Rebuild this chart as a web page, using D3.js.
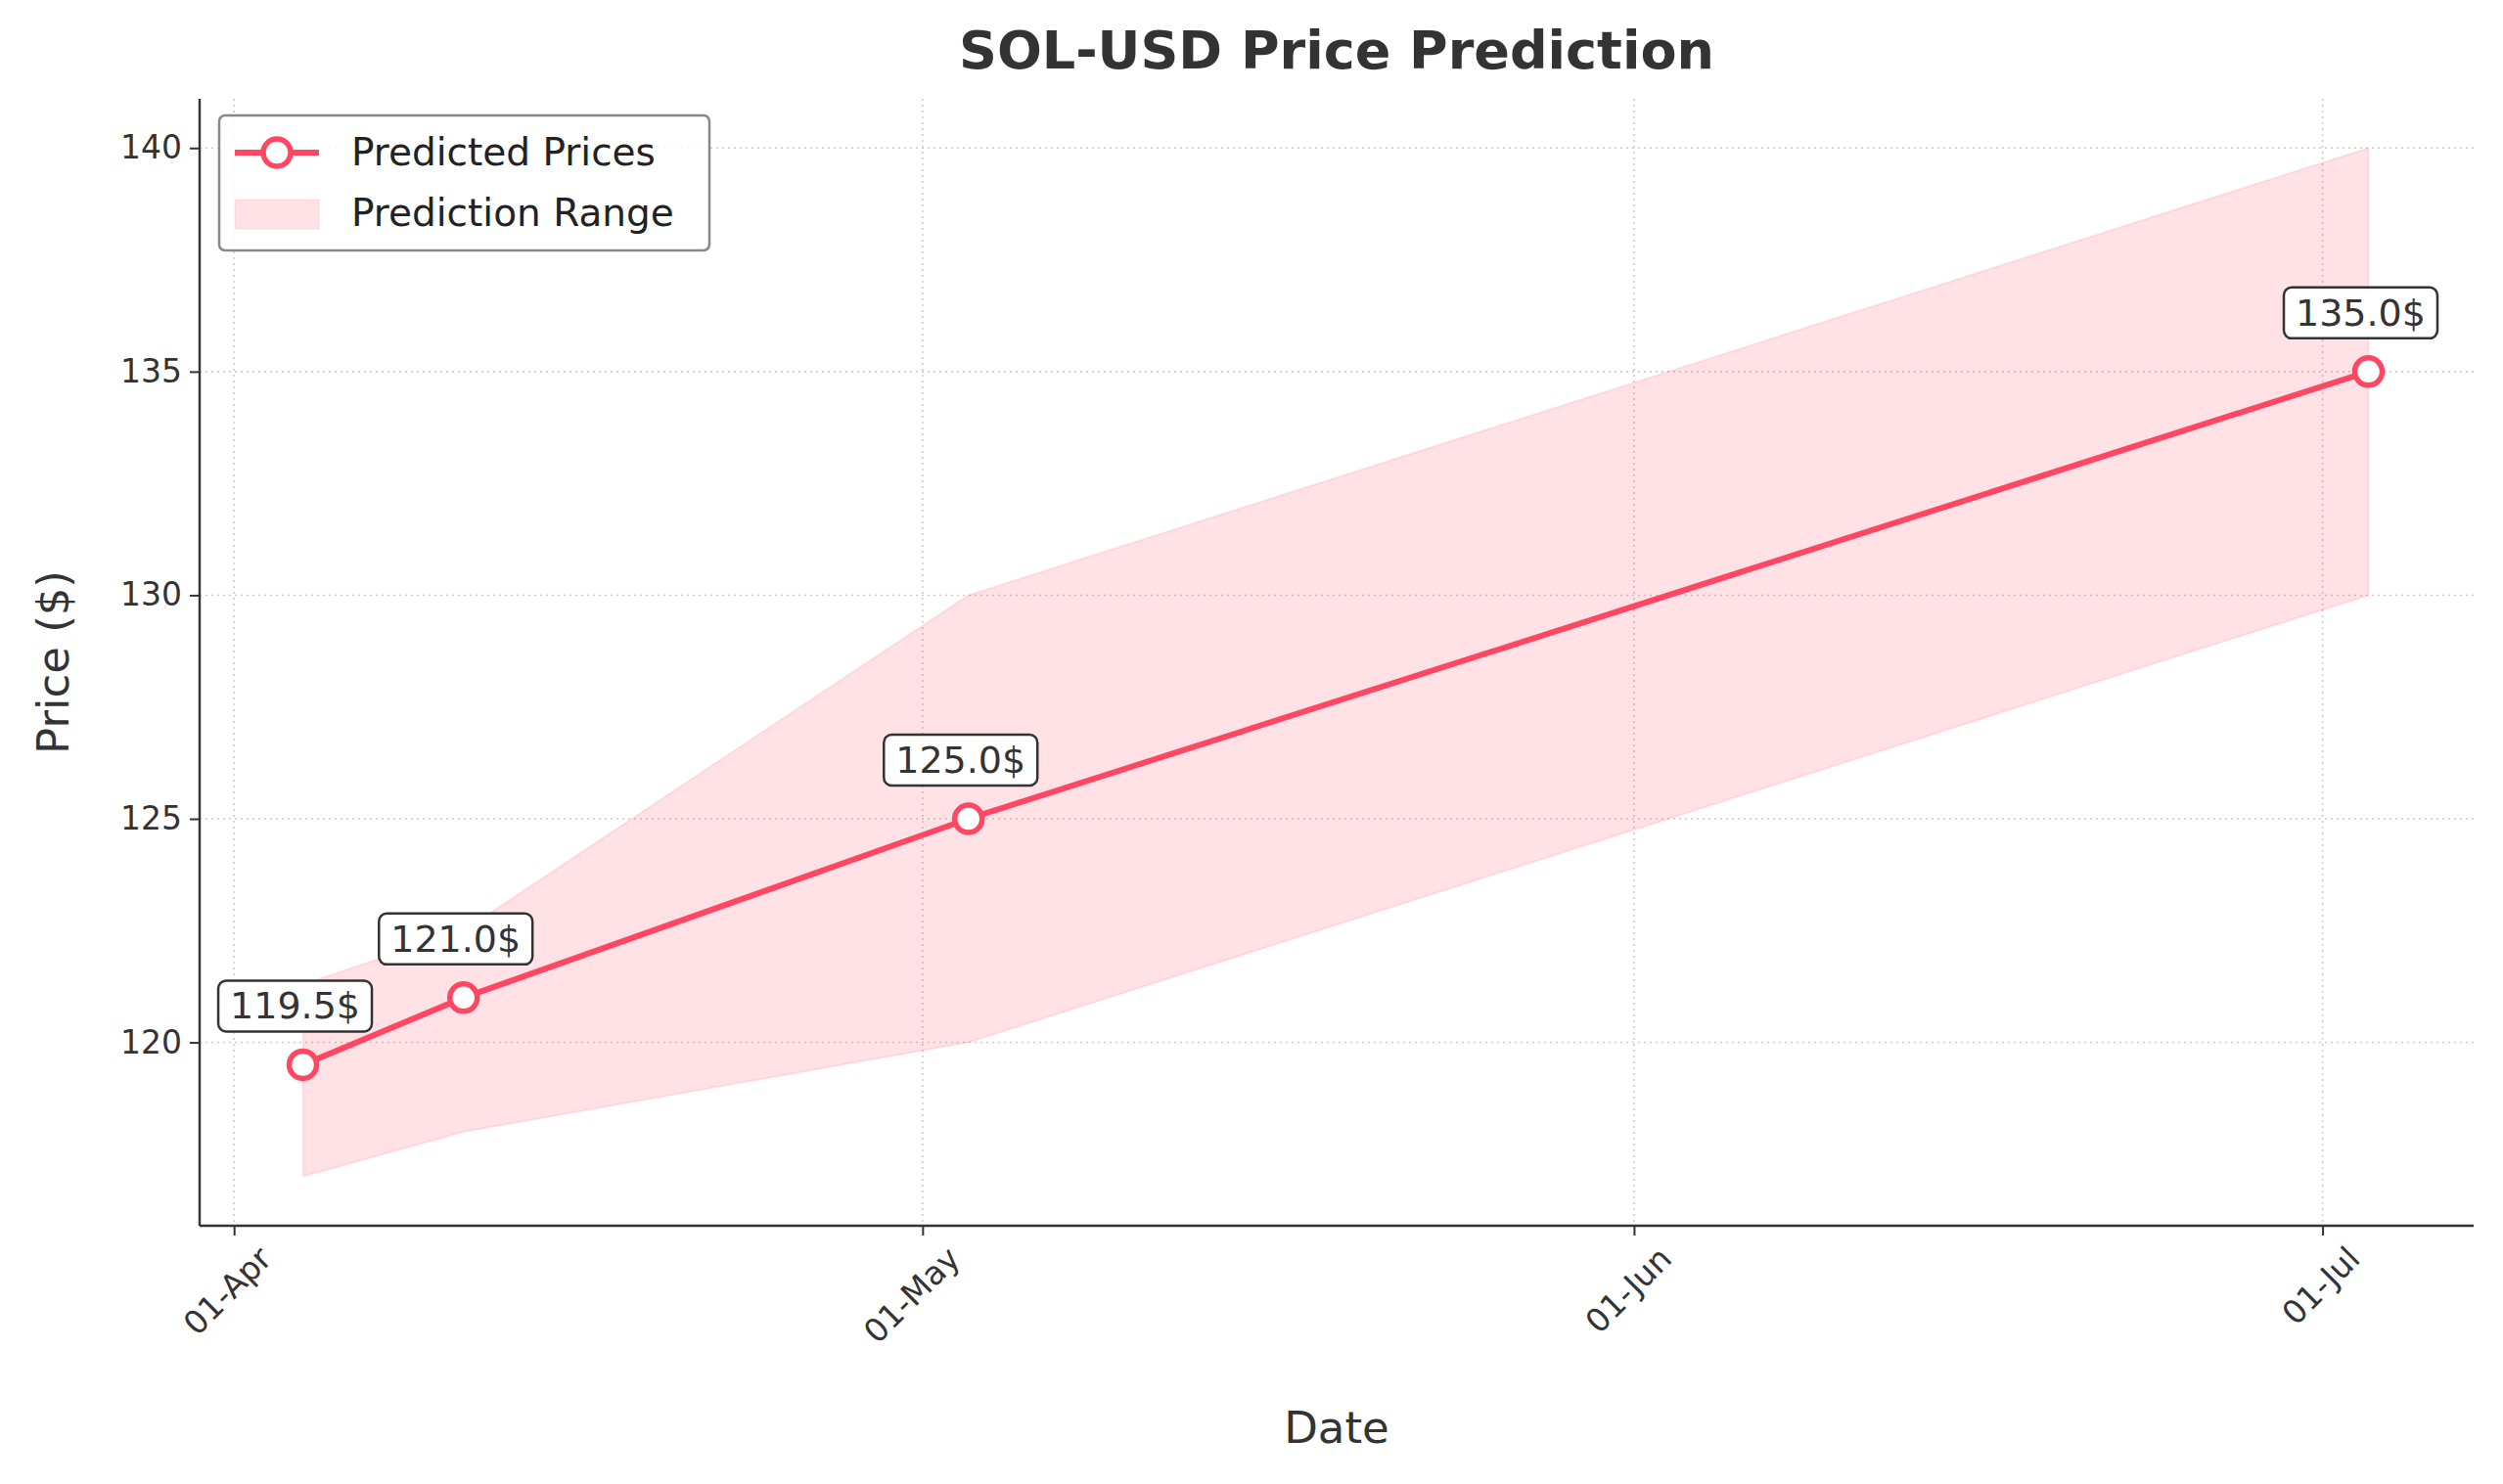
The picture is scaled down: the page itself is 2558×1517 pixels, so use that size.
<!DOCTYPE html>
<html><head><meta charset="utf-8">
<script src="https://cdn.jsdelivr.net/npm/d3@7"></script>
<style>body{margin:0;background:#fff;font-family:"DejaVu Sans",sans-serif;} svg text{font-family:"DejaVu Sans",sans-serif;}</style>
</head><body><svg id="c" width="2558" height="1517"></svg>
<script>
const dates = ["2025-04-04", "2025-04-11", "2025-05-03", "2025-07-03"];
const predicted = [119.5, 121.0, 125.0, 135.0];
const lower = [117.0, 118.0, 120.0, 130.0];
const upper = [121.3, 122.5, 130.0, 140.0];
const yTicks = [120, 125, 130, 135, 140];
const xTicks = ["2025-04-01", "2025-05-01", "2025-06-01", "2025-07-01"];

const parse = d3.utcParse("%Y-%m-%d");
const data = dates.map((d, i) => ({ date: parse(d), p: predicted[i], lo: lower[i], hi: upper[i] }));

const svg = d3.select("#c");
const m = { left: 204, right: 2528, top: 101, bottom: 1253 };
const color = "#ff4763";

const x = d3.scaleUtc().domain([new Date(Date.UTC(2025, 2, 30, 12)), new Date(Date.UTC(2025, 6, 7, 14))]).range([m.left, m.right]);
const y = d3.scaleLinear().domain([115.9, 141.1]).range([m.bottom, m.top]);

// grid
const grid = svg.append("g").attr("stroke", "#ccc").attr("stroke-width", 1.6).attr("stroke-dasharray", "2,4");
yTicks.forEach(t => grid.append("line").attr("x1", m.left).attr("x2", m.right).attr("y1", y(t)).attr("y2", y(t)));
xTicks.forEach(t => grid.append("line").attr("x1", x(parse(t))).attr("x2", x(parse(t))).attr("y1", m.top).attr("y2", m.bottom));

// range band
svg.append("path").datum(data)
  .attr("d", d3.area().x(d => x(d.date)).y0(d => y(d.lo)).y1(d => y(d.hi)))
  .attr("fill", color).attr("fill-opacity", 0.16).attr("stroke", color).attr("stroke-opacity", 0.12).attr("stroke-width", 2);

// line
svg.append("path").datum(data)
  .attr("d", d3.line().x(d => x(d.date)).y(d => y(d.p)))
  .attr("fill", "none").attr("stroke", color).attr("stroke-width", 6);

svg.selectAll("circle.pt").data(data).join("circle")
  .attr("cx", d => x(d.date)).attr("cy", d => y(d.p)).attr("r", 14)
  .attr("fill", "#fff").attr("stroke", color).attr("stroke-width", 5.5);

// labels
data.forEach(d => {
  const g = svg.append("g").attr("transform", `translate(${x(d.date) - 8},${y(d.p) - 60})`);
  const t = g.append("text").attr("text-anchor", "middle").attr("dominant-baseline", "central")
    .style("font-size", "38px").attr("fill", "#333").text(d.p.toFixed(1) + "$");
  const b = t.node().getBBox();
  g.insert("rect", "text").attr("x", b.x - 12).attr("y", b.y - 4).attr("width", b.width + 24).attr("height", b.height + 8)
    .attr("rx", 8).attr("fill", "#fff").attr("stroke", "#333").attr("stroke-width", 2.5);
});

// axes
const xAxis = svg.append("g").attr("transform", `translate(0,${m.bottom})`)
  .call(d3.axisBottom(x).tickValues(xTicks.map(parse)).tickFormat(d3.utcFormat("%d-%b")).tickSize(10).tickSizeOuter(0));
xAxis.selectAll("text").style("font-size", "33px").attr("fill", "#333").attr("text-anchor", "end")
  .attr("transform", "translate(14,10) rotate(-45)");
const yAxis = svg.append("g").attr("transform", `translate(${m.left},0)`)
  .call(d3.axisLeft(y).tickValues(yTicks).tickSize(10).tickSizeOuter(0));
yAxis.selectAll("text").style("font-size", "33px").attr("fill", "#333").attr("x", -18);
[xAxis, yAxis].forEach(a => { a.attr("font-family", null).attr("font-size", null); a.selectAll("line,path").attr("stroke", "#333").attr("stroke-width", 2); a.select(".domain").attr("d", null); });
svg.append("line").attr("x1", m.left).attr("x2", m.right).attr("y1", m.bottom).attr("y2", m.bottom).attr("stroke", "#333").attr("stroke-width", 2.4);
svg.append("line").attr("x1", m.left).attr("x2", m.left).attr("y1", m.top).attr("y2", m.bottom).attr("stroke", "#333").attr("stroke-width", 2.4);

svg.append("text").attr("x", (m.left + m.right) / 2).attr("y", 70).attr("text-anchor", "middle")
  .style("font-size", "54px").attr("font-weight", "bold").attr("fill", "#333").text("SOL-USD Price Prediction");
svg.append("text").attr("x", (m.left + m.right) / 2).attr("y", 1475).attr("text-anchor", "middle")
  .style("font-size", "45px").attr("fill", "#333").text("Date");
svg.append("text").attr("transform", `translate(70,${(m.top + m.bottom) / 2}) rotate(-90)`).attr("text-anchor", "middle")
  .style("font-size", "45px").attr("fill", "#333").text("Price ($)");

// legend
const lg = svg.append("g").attr("transform", "translate(224,118)");
lg.append("rect").attr("width", 501).attr("height", 138).attr("rx", 6).attr("fill", "#fff").attr("fill-opacity", 0.85)
  .attr("stroke", "#888").attr("stroke-width", 2.5);
lg.append("line").attr("x1", 16).attr("x2", 102).attr("y1", 38).attr("y2", 38).attr("stroke", color).attr("stroke-width", 6);
lg.append("circle").attr("cx", 59).attr("cy", 38).attr("r", 14).attr("fill", "#fff").attr("stroke", color).attr("stroke-width", 5.5);
lg.append("rect").attr("x", 16).attr("y", 86).attr("width", 86).attr("height", 30).attr("fill", color).attr("fill-opacity", 0.16)
  .attr("stroke", color).attr("stroke-opacity", 0.12);
lg.append("text").attr("x", 135).attr("y", 51).style("font-size", "39px").attr("fill", "#222").text("Predicted Prices");
lg.append("text").attr("x", 135).attr("y", 113).style("font-size", "39px").attr("fill", "#222").text("Prediction Range");
</script></body></html>
